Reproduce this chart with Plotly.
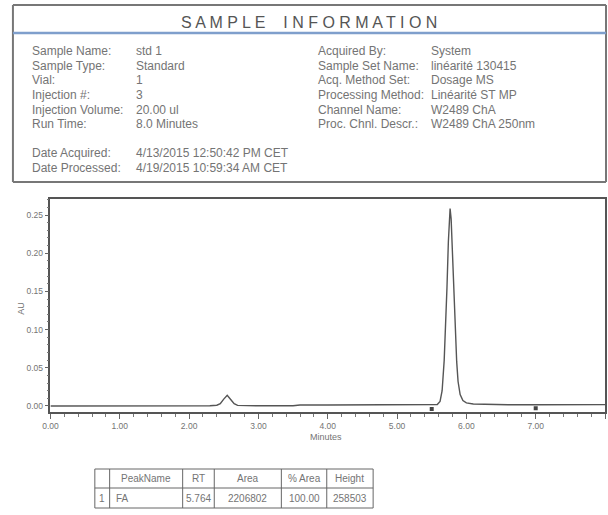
import plotly.graph_objects as go

W, H = 608, 515

# ---------------- data ----------------
time_min = [0.00, 0.50, 1.00, 1.50, 2.00, 2.30, 2.40, 2.45, 2.50, 2.55, 2.60, 2.65, 2.70, 2.80,
            3.00, 3.50, 3.60, 4.00, 4.50, 5.00, 5.40, 5.58, 5.62, 5.65, 5.68, 5.70, 5.72, 5.74,
            5.76, 5.765, 5.78, 5.80, 5.82, 5.84, 5.86, 5.88, 5.91, 5.95, 6.00, 6.10, 6.30, 6.60,
            7.00, 7.50, 8.00]
absorbance = [0.0000, 0.0000, 0.0000, 0.0000, 0.0001, 0.0002, 0.0010, 0.0030, 0.0090, 0.0140,
              0.0085, 0.0030, 0.0008, 0.0003, 0.0002, 0.0003, 0.0012, 0.0013, 0.0013, 0.0014,
              0.0015, 0.0020, 0.0060, 0.0200, 0.0600, 0.1000, 0.1550, 0.2150, 0.2550, 0.2585,
              0.2450, 0.2000, 0.1450, 0.0950, 0.0580, 0.0320, 0.0150, 0.0070, 0.0040, 0.0025,
              0.0018, 0.0016, 0.0016, 0.0017, 0.0018]
baseline_marks_t = [5.50, 7.00]
baseline_marks_y = [-0.004, -0.003]

y_ticks = [0.00, 0.05, 0.10, 0.15, 0.20, 0.25]
y_tick_labels = ["0.00", "0.05", "0.10", "0.15", "0.20", "0.25"]
x_ticks = [0, 1, 2, 3, 4, 5, 6, 7, 8]
x_tick_labels = ["0.00", "1.00", "2.00", "3.00", "4.00", "5.00", "6.00", "7.00", "8.00"]

info_left_labels = ["Sample Name:", "Sample Type:", "Vial:", "Injection #:", "Injection Volume:", "Run Time:"]
info_left_values = ["std 1", "Standard", "1", "3", "20.00 ul", "8.0 Minutes"]
info_right_labels = ["Acquired By:", "Sample Set Name:", "Acq. Method Set:", "Processing Method:",
                     "Channel Name:", "Proc. Chnl. Descr.:"]
info_right_values = ["System", "linéarité 130415", "Dosage MS", "Linéarité ST MP", "W2489 ChA",
                     "W2489 ChA 250nm"]
date_labels = ["Date Acquired:", "Date Processed:"]
date_values = ["4/13/2015 12:50:42 PM CET", "4/19/2015 10:59:34 AM CET"]

table_header = ["", "PeakName", "RT", "Area", "% Area", "Height"]
table_row = ["1", "FA", "5.764", "2206802", "100.00", "258503"]

# ---------------- helpers ----------------
FONT = "Liberation Sans, Arial, sans-serif"
TXT = "#747474"


def px(x):
    return x / W


def py(y):
    return 1 - y / H


annotations = []
shapes = []


def text(x, y, s, size=12, color=TXT, xanchor="left", angle=0):
    annotations.append(dict(x=px(x), y=py(y), xref="paper", yref="paper", text=s, showarrow=False,
                            xanchor=xanchor, yanchor="middle", textangle=angle,
                            font=dict(family=FONT, size=size, color=color)))


def line(x0, y0, x1, y1, color="#666", width=1):
    shapes.append(dict(type="line", xref="paper", yref="paper", x0=px(x0), y0=py(y0),
                       x1=px(x1), y1=py(y1), line=dict(color=color, width=width)))


# ---------------- header box ----------------
line(5, 5, 606, 5, "#777", 2)
line(5, 182, 606, 182, "#777", 2)
line(5, 5, 5, 182, "#777", 2)
line(606, 5, 606, 182, "#777", 2)
line(5, 33, 606, 33, "#7f9fcc", 2.5)
text(305, 22, "S A M P L E &nbsp;&nbsp; I N F O R M A T I O N", size=16, color="#555", xanchor="center")

row_y = [51, 65.7, 80.4, 95.1, 109.8, 124.5]
for i, yy in enumerate(row_y):
    text(22, yy, info_left_labels[i])
    text(128, yy, info_left_values[i])
    text(312, yy, info_right_labels[i])
    text(427, yy, info_right_values[i])
for i, yy in enumerate([153, 168]):
    text(22, yy, date_labels[i])
    text(128, yy, date_values[i])

# ---------------- axis labels ----------------
text(13, 308, "AU", size=9, xanchor="center", angle=-90)
text(322, 437, "Minutes", size=9, xanchor="center")

# ---------------- table ----------------
col_x = [88, 103, 177, 209, 277, 323, 370]
row_lines = [469, 488, 508]
for yy in row_lines:
    line(col_x[0], yy, col_x[-1], yy, "#666", 1)
for xx in col_x:
    line(xx, row_lines[0], xx, row_lines[-1], "#666", 1)
for j in range(6):
    cx = (col_x[j] + col_x[j + 1]) / 2
    text(cx, 478.5, table_header[j], size=10, xanchor="center")
    if j == 1:
        text(col_x[1] + 4, 498, table_row[j], size=10)
    else:
        text(cx, 498, table_row[j], size=10, xanchor="center")

# ---------------- chart ----------------
fig = go.Figure()
fig.add_trace(go.Scatter(x=time_min, y=absorbance, mode="lines",
                         line=dict(color="#555", width=1.4), hoverinfo="skip"))
fig.add_trace(go.Scatter(x=baseline_marks_t, y=baseline_marks_y, mode="markers",
                         marker=dict(symbol="square", size=4, color="#444"), hoverinfo="skip"))

fig.update_layout(
    width=W, height=H,
    margin=dict(l=0, r=0, t=0, b=0),
    paper_bgcolor="white", plot_bgcolor="white",
    showlegend=False,
    annotations=annotations, shapes=shapes,
    xaxis=dict(domain=[px(43), px(605)], range=[0, 8], tickvals=x_ticks, ticktext=x_tick_labels,
               ticks="outside", ticklen=5, tickcolor="#666", tickwidth=1,
               minor=dict(dtick=0.2, ticks="outside", ticklen=3, tickcolor="#777"),
               showline=True, linecolor="#555", linewidth=1.5, mirror=True,
               showgrid=False, zeroline=False,
               tickfont=dict(family=FONT, size=8.5, color=TXT)),
    yaxis=dict(domain=[py(412), py(199)], range=[-0.0079, 0.271], tickvals=y_ticks,
               ticktext=y_tick_labels,
               ticks="outside", ticklen=4, tickcolor="#666", tickwidth=1,
               minor=dict(dtick=0.01, ticks="outside", ticklen=2, tickcolor="#777"),
               showline=True, linecolor="#555", linewidth=1.5, mirror=True,
               showgrid=False, zeroline=False,
               tickfont=dict(family=FONT, size=8.5, color=TXT)),
)

fig.write_html("out.html", config={"displayModeBar": False},
               post_script="document.body.style.margin='0px';document.body.style.overflow='hidden';")
